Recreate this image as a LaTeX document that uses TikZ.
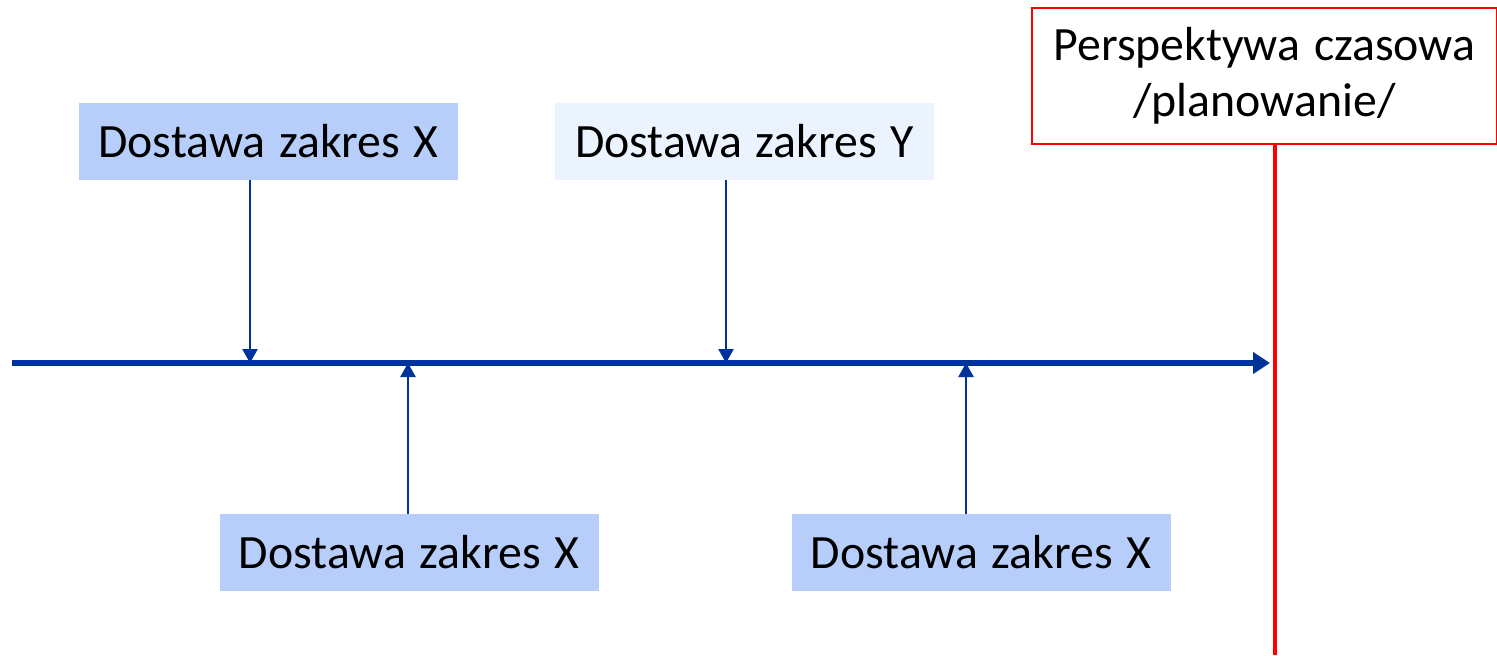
\documentclass[tikz,border=0pt]{standalone}
\usepackage{fontspec}
\setmainfont{Carlito}[WordSpace=1.25]
\usetikzlibrary{arrows.meta}
\definecolor{osblue}{RGB}{0,51,153}
\definecolor{boxblue}{RGB}{183,206,251}
\definecolor{boxlight}{RGB}{234,243,254}
\tikzset{
  zakres/.style={fill=boxblue,inner sep=0pt,minimum width=7.58cm,minimum height=1.54cm,
    font=\fontsize{27.2}{33}\selectfont},
  dostawa/.style={draw=osblue,line width=1.5pt,-{Triangle[length=0.28cm,width=0.3cm]}},
}
\begin{document}
\begin{tikzpicture}
\useasboundingbox (0,0) rectangle (29.94,13.1);
\node[zakres] (x1) at (5.37,10.27) {Dostawa zakres X};
\node[zakres,fill=boxlight] (y1) at (14.89,10.27) {Dostawa zakres Y};
\node[zakres] (x2) at (8.18,2.05) {Dostawa zakres X};
\node[zakres] (x3) at (19.62,2.05) {Dostawa zakres X};
\node[draw=red,line width=0.8pt,inner sep=0pt,minimum width=9.3cm,minimum height=2.72cm,
  align=center,font=\fontsize{27.2}{32}\selectfont] (persp) at (25.29,11.58)
  {Perspektywa czasowa\\/planowanie/};
% os czasu
\coordinate (start) at (0.24,5.84);
\coordinate (stop) at (25.4,5.84);
\coordinate (t1) at (5.0,5.84);
\coordinate (t2) at (8.16,5.84);
\coordinate (t3) at (14.52,5.84);
\coordinate (t4) at (19.32,5.84);
\coordinate (dol) at (25.5,0);
\draw[red,line width=2pt] (persp.south -| dol) -- (dol);
\draw[osblue,line width=3.4pt,-{Triangle[length=0.34cm,width=0.42cm]}] (start) -- (stop);
\draw[dostawa] (x1.south -| t1) -- (t1);
\draw[dostawa] (y1.south -| t3) -- (t3);
\draw[dostawa] (x2.north -| t2) -- (t2);
\draw[dostawa] (x3.north -| t4) -- (t4);
\end{tikzpicture}
\end{document}
